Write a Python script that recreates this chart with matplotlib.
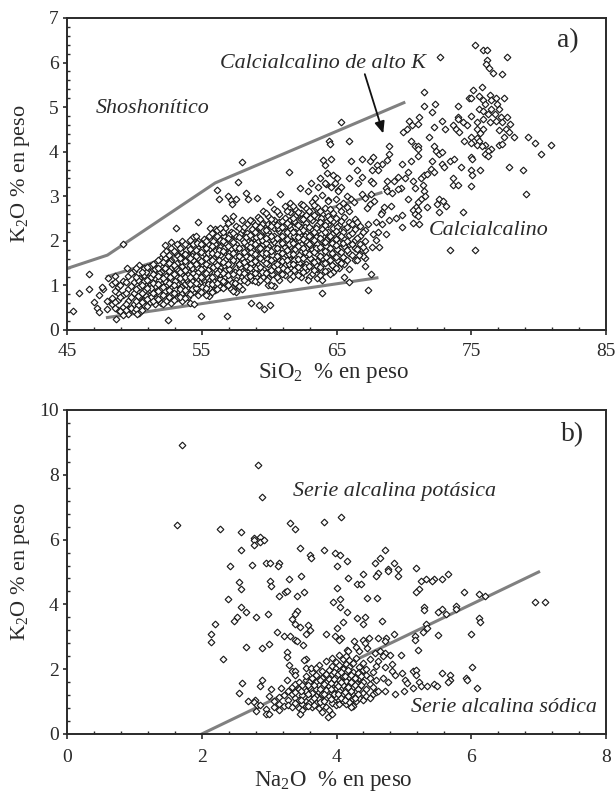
import matplotlib
matplotlib.use('Agg')
import matplotlib.pyplot as plt

plt.rcParams['font.family'] = ['Liberation Serif', 'DejaVu Serif']
plt.rcParams['mathtext.fontset'] = 'custom'
plt.rcParams['mathtext.rm'] = 'Liberation Serif'
plt.rcParams['mathtext.default'] = 'regular'

COR_TEXTO = '#2a2a2a'
COR_LINHA = '#808080'

# a) pontos isolados (SiO2, K2O)
a_esquerda = [
    (45.45, .43), (45.9, .82), (46.6, .93), (46.6, 1.25), (47.0, .63), (47.2, .5), (47.35, .4),
    (47.35, .78), (47.7, .91), (47.6, .97), (47.95, .46), (47.95, .65), (48.07, 1.16), (48.56, 1.22),
    (48.56, 1.08), (49.13, 1.93), (48.64, .25), (49.18, .33), (49.48, 1.4), (50.2, .35), (52.5, .22),
    (54.95, .32), (56.85, .32), (58.64, .61), (59.26, .57), (59.6, .47), (60.07, .57), (57.95, 3.76),
    (61.5, 3.55), (56.14, 3.15), (56.26, 2.93), (57.7, 3.33), (56.98, 3.01), (57.18, 2.91), (57.55, 2.93),
    (57.23, 2.83), (58.3, 3.08), (58.4, 2.93), (59.1, 2.97), (60.07, 2.87), (60.77, 3.05), (62.3, 3.19),
    (62.9, 3.11), (63.1, 3.29), (63.76, 3.41), (63.4, 2.97), (54.73, 2.43), (53.07, 2.29), (52.3, 1.9),
    (52.7, 1.97), (55.6, 2.28), (56.36, 2.28), (54.1, .6), (54.4, .58), (63.9, .82), (62.92, 1.12),
]
a_medio = [
    (65.32, 4.66), (64.48, 4.23), (64.5, 4.18), (65.92, 4.23), (68.86, 4.13), (68.86, 3.95), (68.76, 3.81),
    (64.0, 3.81), (64.6, 3.84), (64.13, 3.7), (66.04, 3.8), (66.86, 3.84), (67.45, 3.8), (67.7, 3.88),
    (68.34, 3.73), (67.97, 3.7), (68.1, 3.6), (67.6, 3.58), (65.92, 3.41), (66.5, 3.58), (66.86, 3.44), (66.63, 3.3),
    (67.57, 3.34), (67.7, 3.3), (68.76, 3.34), (69.26, 3.34), (69.6, 3.44), (70.07, 3.41), (70.3, 3.55),
    (70.67, 3.34), (71.26, 3.41), (71.49, 3.48), (71.39, 3.26), (70.8, 3.19), (71.5, 3.11), (69.75, 3.19),
    (69.6, 3.16), (68.64, 3.19), (68.76, 3.11), (69.13, 3.08), (66.86, 3.05), (67.1, 2.97), (67.57, 3.05),
    (65.8, 3.01), (66.04, 2.93), (66.29, 2.87), (67.48, 2.82), (67.82, 2.9), (67.23, 2.73), (69.03, 2.79),
    (68.5, 2.76), (68.4, 2.65), (68.3, 2.61), (70.3, 2.93), (71.26, 2.93), (71.04, 2.87), (71.6, 3.01),
    (70.9, 2.76), (71.73, 2.76), (70.65, 2.69), (71.04, 2.69), (72.6, 2.93), (72.9, 2.9), (72.45, 2.83),
    (73.14, 2.79), (72.6, 2.65), (70.8, 2.61), (71.04, 2.55), (70.67, 2.4), (71.14, 2.37), (69.85, 2.58),
    (69.85, 2.3), (69.38, 2.51), (68.9, 2.47), (68.4, 2.37), (68.64, 2.16), (67.95, 2.43), (67.35, 2.37),
    (67.1, 1.44), (67.57, 1.26), (65.54, 1.19), (65.92, 1.08), (67.35, .9), (68.17, 1.87), (67.65, 1.87),
    (67.95, 2.02), (66.66, 1.68), (68.1, 2.2), (67.7, 2.15), (64.3, 3.52), (64.75, 3.48), (65.0, 3.42),
    (64.9, 3.3), (64.2, 3.28), (63.6, 3.2), (65.1, 3.15), (65.3, 3.2), (64.15, 3.29), (64.6, 3.2),
    (65.1, 3.11), (64.96, 2.95), (63.9, 3.02), (64.4, 2.9), (65.5, 2.85),
]
a_direita = [
    (75.3, 6.39), (75.87, 6.28), (76.14, 6.28), (76.14, 6.06), (76.09, 5.96), (76.3, 5.87), (76.6, 5.77),
    (77.3, 5.74), (77.67, 6.12), (72.67, 6.12), (71.49, 5.34), (71.49, 5.02), (72.33, 5.06), (72.08, 4.88),
    (74.0, 5.02), (73.99, 4.78), (72.82, 4.7), (72.23, 4.56), (73.04, 4.52), (71.86, 4.34), (71.1, 4.77),
    (70.4, 4.7), (70.6, 4.59), (71.04, 4.62), (70.2, 4.52), (69.95, 4.44), (70.55, 4.23), (70.8, 4.13),
    (71.04, 4.13), (71.04, 4.05), (72.2, 4.13), (72.35, 4.02), (72.6, 3.95), (72.82, 3.99), (71.04, 3.91),
    (70.55, 3.8), (69.83, 3.73), (72.1, 3.8), (72.0, 3.62), (72.2, 3.55), (71.73, 3.51), (73.4, 3.8),
    (73.74, 3.84), (72.8, 3.73), (72.95, 3.66), (74.23, 3.66), (74.95, 3.88), (75.07, 3.84), (74.95, 3.58),
    (75.67, 3.58), (75.07, 3.47), (73.64, 3.41), (73.64, 3.26), (74.0, 3.26), (74.95, 3.23), (77.8, 3.66),
    (78.86, 3.58), (79.1, 3.05), (74.36, 2.65), (73.39, 1.79), (75.3, 1.79), (79.2, 4.34), (79.7, 4.2),
    (80.17, 3.94), (80.9, 4.16), (75.15, 5.38), (75.77, 5.45), (74.83, 5.2), (75.0, 5.2), (75.54, 5.24),
    (75.9, 5.15), (76.36, 5.27), (76.86, 5.2), (77.45, 5.2), (76.5, 5.16), (76.93, 5.08), (76.0, 5.06),
    (75.54, 4.95), (75.9, 4.91), (76.5, 4.95), (77.08, 4.95), (74.95, 4.8), (75.9, 4.73), (76.24, 4.84),
    (76.73, 4.84), (77.2, 4.77), (77.67, 4.77), (74.0, 4.73), (74.36, 4.66), (74.7, 4.59), (73.64, 4.59),
    (73.9, 4.52), (74.1, 4.44), (75.42, 4.66), (75.42, 4.52), (75.9, 4.52), (76.36, 4.66), (76.83, 4.7),
    (77.3, 4.66), (77.9, 4.63), (77.08, 4.48), (77.55, 4.52), (77.8, 4.44), (78.14, 4.34), (77.43, 4.34),
    (74.95, 4.34), (75.67, 4.41), (75.42, 4.3), (74.48, 4.23), (74.95, 4.2), (75.54, 4.23), (75.42, 4.16),
    (76.0, 4.16), (75.77, 4.13), (77.08, 4.16), (77.25, 4.18), (76.5, 4.05), (76.24, 4.02), (76.0, 3.95),
    (76.24, 3.91),
]

# a) nuvem densa: K2O lido por coluna de SiO2, passagens intercaladas
a_nuvem_1 = [
    (48.35, [.71, 1.03, .58]), (48.75, [.44, .96, .67, .83]), (49.15, [.52, 1.11, .38, .79]),
    (49.55, [.91, .47, 1.22, .66, .36]), (49.95, [.59, 1.33, .83, .42, 1.07]), (50.35, [1.17, .51, .74, 1.46, .96, .39]),
    (50.75, [.87, 1.38, .56, 1.09, .68, 1.24]), (51.15, [.62, 1.44, 1.02, .78, 1.29, .9]), (51.55, [1.17, .58, 1.36, .83, 1.51, .98]),
    (51.95, [.73, 1.62, 1.08, .61, 1.3, .92, 1.44]), (52.35, [1.22, .66, 1.78, 1.0, 1.47, .84, 1.6]),
    (52.75, [.95, 1.39, .6, 1.84, 1.13, .76, 1.58, 1.27]), (53.15, [1.5, .71, 1.19, 1.93, .88, 1.69, 1.04, 1.36]),
    (53.55, [.82, 1.28, 1.76, .97, 1.99, 1.44, .66, 1.12, 1.6]), (53.95, [1.08, 1.67, .74, 1.41, 1.89, .93, 1.24, 1.53]),
    (54.35, [1.35, .86, 2.08, 1.16, 1.73, .99, 1.56, 1.92, 1.27]), (54.75, [.79, 1.62, 1.02, 2.0, 1.3, 1.84, 1.47, .92]),
    (55.15, [1.11, 1.72, .88, 1.96, 1.38, 1.58, 1.24, 2.05, 1.0]), (55.55, [.76, 1.44, 1.09, 2.12, 1.66, .95, 1.82, 1.31]),
    (55.95, [1.53, 1.0, 2.26, 1.77, 1.21, 1.93, .89, 1.36, 2.06]), (56.35, [1.14, 1.69, .97, 2.18, 1.41, 1.86, 1.26, 2.01]),
    (56.75, [.99, 2.52, 1.58, 1.18, 2.1, 1.74, 1.34, 1.95, 2.28]), (57.15, [1.47, .91, 2.44, 1.08, 1.81, 2.03, 1.28, 1.63, 2.2]),
    (57.55, [1.12, 1.72, .85, 2.33, 1.39, 1.93, 1.56, 2.12, 1.0]), (57.95, [1.62, 1.19, 2.47, .93, 1.85, 1.33, 2.24, 1.49, 2.05]),
    (58.35, [1.07, 2.0, 1.42, 2.38, 1.74, 1.24, 1.91, 1.57, 2.17]), (58.75, [1.35, 2.27, 1.13, 1.8, 1.52, 2.09, 1.67, 1.96, 2.44]),
    (59.15, [1.69, 1.07, 2.53, 1.25, 2.0, 1.46, 2.3, 1.84, 2.15]), (59.55, [1.2, 2.68, 1.58, 2.09, 1.37, 1.77, 2.41, 1.94, 2.24]),
    (59.95, [1.02, 1.88, 2.56, 1.49, 2.2, 1.3, 1.7, 2.38, 2.02, 1.16]), (60.35, [1.62, .98, 2.29, 1.26, 2.72, 1.84, 1.43, 2.11, 1.97, 2.47]),
    (60.75, [1.13, 2.03, 1.55, 2.6, 1.35, 2.22, 1.76, 2.42, 1.9]), (61.15, [1.87, 1.24, 2.34, 1.66, 2.78, 1.46, 2.12, 2.52, 1.98]),
    (61.55, [1.39, 2.46, 1.14, 2.0, 1.73, 2.28, 2.84, 1.57, 2.64, 1.89]), (61.95, [2.19, 1.28, 2.71, 1.64, 1.97, 2.4, 1.46, 2.06, 1.82, 2.56]),
    (62.35, [1.53, 2.83, 1.18, 2.3, 1.76, 2.62, 1.39, 2.11, 1.92, 2.48]), (62.75, [1.34, 2.18, 1.68, 2.74, 2.39, 1.49, 2.0, 2.57, 1.84]),
    (63.15, [2.88, 1.58, 1.25, 2.26, 1.81, 2.66, 2.04, 1.44, 2.47, 1.95]), (63.55, [1.16, 2.13, 1.71, 2.54, 1.37, 1.92, 2.36, 2.77, 1.55]),
    (63.95, [2.03, 1.28, 2.61, 1.62, 2.27, 1.86, 2.45, 1.12, 1.47]), (64.35, [1.74, 2.38, 1.33, 2.92, 2.09, 1.54, 2.2, 1.93, 2.55]),
    (64.75, [1.43, 2.62, 2.01, 1.69, 2.29, 1.85, 2.44, 1.3]), (65.15, [2.14, 1.53, 2.78, 1.77, 2.36, 1.95, 1.4]),
    (65.55, [1.62, 2.27, 1.88, 2.54, 1.47, 2.04]), (65.95, [2.43, 1.72, 1.37, 2.13, 1.93, 2.66]),
    (66.35, [1.83, 2.26, 1.58, 2.01, 2.5]), (66.75, [2.12, 1.71, 1.94, 2.34]), (67.15, [1.79, 2.24, 2.0, 1.62]),
]
a_nuvem_2 = [
    (48.55, [.62, .88, .49]), (48.95, [.74, .42, 1.02]), (49.35, [.58, 1.08, .82, .44]),
    (49.75, [.73, 1.27, .5, .98]), (50.15, [.93, .46, 1.4, .66, 1.2]), (50.55, [.62, 1.3, .44, 1.02, .82]),
    (50.95, [1.12, .7, 1.41, .53, .94]), (51.35, [.84, 1.25, .66, 1.47, 1.06]), (51.75, [1.39, .69, 1.04, 1.56, .87, 1.22]),
    (52.15, [.97, 1.52, .58, 1.71, 1.17, .79]), (52.55, [1.33, .73, 1.06, 1.69, .9, 1.5]),
    (52.95, [.67, 1.25, 1.77, 1.01, 1.46, .84]), (53.35, [1.16, .75, 1.62, 1.31, .93, 1.83]),
    (53.75, [1.55, .9, 1.2, 1.94, 1.34, .71, 1.71]), (54.15, [.8, 1.46, 1.04, 2.02, 1.61, 1.2, 1.81]),
    (54.55, [1.22, 1.8, .94, 1.48, 2.1, 1.05, 1.66]), (54.95, [1.55, .85, 1.18, 1.92, 1.37, 1.75]),
    (55.35, [.94, 1.49, 2.0, 1.27, .78, 1.83, 1.61]), (55.75, [1.2, 1.88, .86, 1.56, 2.17, 1.03, 1.73]),
    (56.15, [1.7, 1.06, 1.46, 2.1, .93, 1.28, 2.24]), (56.55, [1.29, 2.0, 1.52, .95, 1.77, 2.2, 1.1]),
    (56.95, [1.88, 1.23, 2.4, 1.02, 1.49, 1.67, 2.06]), (57.35, [.88, 1.56, 2.18, 1.25, 1.98, 1.73, 2.55]),
    (57.75, [1.3, 2.08, .98, 1.66, 2.28, 1.47, 1.85]), (58.15, [1.76, 1.12, 2.31, 1.52, 1.98, 1.28]),
    (58.55, [1.21, 2.13, 1.61, 1.87, 2.46, 1.38]), (58.95, [1.93, 1.1, 2.36, 1.54, 1.71, 2.2, 1.29]),
    (59.35, [1.42, 2.5, 1.84, 1.12, 2.1, 1.62, 2.32]), (59.75, [1.95, 1.28, 2.62, 1.51, 2.25, 1.73, 2.07]),
    (60.15, [1.34, 2.12, 1.0, 1.78, 2.5, 1.57, 2.33]), (60.55, [2.06, 1.47, 1.18, 2.66, 1.83, 2.35, 1.65]),
    (60.95, [1.54, 2.45, 1.26, 2.1, 1.72, 2.3, 1.96]), (61.35, [2.2, 1.34, 1.8, 2.66, 1.58, 2.41, 2.04]),
    (61.75, [1.22, 1.95, 2.52, 1.7, 2.2, 2.78, 1.48]), (62.15, [1.88, 2.36, 1.41, 2.64, 2.08, 1.6, 1.24]),
    (62.55, [2.24, 1.62, 2.8, 1.31, 2.04, 2.5, 1.83]), (62.95, [1.44, 2.32, 1.92, 2.68, 1.71, 2.12, 1.2]),
    (63.35, [2.01, 1.35, 2.58, 1.76, 2.2, 2.8, 1.52]), (63.75, [1.66, 2.42, 1.23, 2.06, 1.86, 2.66, 1.42]),
    (64.15, [2.2, 1.5, 2.74, 1.77, 1.33, 2.35, 1.98]), (64.55, [1.58, 2.1, 2.48, 1.84, 1.26, 2.72]),
    (64.95, [2.22, 1.64, 2.52, 1.9, 1.39, 2.05]), (65.35, [1.74, 2.44, 1.5, 2.1, 2.66]),
    (65.75, [2.0, 1.58, 2.3, 1.8, 2.77]), (66.15, [1.68, 2.18, 1.92, 2.38]),
    (66.55, [1.82, 2.42, 2.06, 1.58]), (66.95, [2.2, 1.66, 1.87]),
]
a_nuvem_3 = [
    (50.25, [.77, 1.12, .55]), (50.85, [.99, .76, 1.31]), (51.25, [.73, 1.18, .95]), (51.85, [1.28, .8, 1.12, 1.48]),
    (52.25, [.87, 1.39, 1.09, 1.62]), (52.65, [1.2, .82, 1.54]), (53.05, [.93, 1.42, 1.11, 1.74]), (53.45, [1.25, .97, 1.54, 1.78]),
    (53.85, [1.48, .86, 1.14, 1.8]), (54.25, [1.09, 1.66, .92, 1.38]), (54.65, [1.42, 1.14, 1.75, 1.96]), (55.05, [.96, 1.49, 1.81, 1.16]),
    (55.45, [1.35, 1.73, 1.04, 1.94]), (55.85, [1.11, 1.62, 1.99, 1.42]), (56.25, [1.58, .99, 1.8, 1.33]), (56.65, [1.45, 1.07, 1.85, 2.12]),
    (57.05, [1.14, 1.72, 1.36, 2.13]), (57.45, [1.65, 1.05, 1.86, 1.3]), (57.85, [1.41, 1.76, 1.09, 2.16]), (58.25, [1.18, 1.67, 2.09, 1.44]),
    (58.65, [1.5, 1.95, 1.28, 1.74]), (59.05, [1.62, 1.19, 2.08, 1.4]), (59.45, [1.3, 1.72, 2.02, 2.38]), (59.85, [1.6, 1.12, 2.14, 1.82]),
    (60.25, [1.68, 1.25, 2.04, 2.4]), (60.65, [1.36, 1.92, 1.74, 2.28]), (61.05, [1.62, 2.18, 1.38, 2.01]), (61.45, [1.92, 1.48, 2.35, 1.7]),
    (61.85, [1.58, 2.12, 1.34, 2.44]), (62.25, [2.2, 1.68, 1.5, 2.01]), (62.65, [1.75, 2.3, 1.41, 2.12]), (63.05, [1.62, 2.14, 1.9, 2.52]),
    (63.45, [1.84, 1.45, 2.28, 2.09]), (63.85, [1.74, 2.16, 1.35, 2.52]), (64.25, [1.64, 2.02, 2.42, 1.88]), (64.65, [1.72, 2.16, 1.46, 1.96]),
    (65.05, [1.82, 2.3, 1.56]), (65.45, [1.96, 2.2, 1.64]),
]

# b) pontos isolados (Na2O, K2O)
b_esquerda = [
    (1.7, 8.93), (1.63, 6.44), (2.84, 8.31), (2.89, 7.31), (2.27, 6.34), (2.58, 6.24), (2.58, 5.68), (2.78, 6.04),
    (2.77, 5.99), (2.87, 6.08), (2.87, 5.94), (2.92, 5.99), (2.77, 5.84), (2.74, 5.23), (2.42, 5.18), (2.96, 5.28),
    (3.01, 5.28), (3.15, 5.28), (3.13, 5.18), (3.31, 6.5), (3.38, 6.34), (3.46, 5.73), (3.6, 5.53), (3.62, 5.44),
    (3.48, 4.88), (3.29, 4.77), (3.01, 4.73), (3.03, 4.57), (2.55, 4.68), (2.58, 4.47), (2.39, 4.16), (3.15, 4.27),
    (3.24, 4.37), (3.27, 4.42), (3.41, 4.27), (3.52, 4.37), (2.58, 3.92), (2.65, 3.76), (2.53, 3.61), (2.48, 3.5),
    (2.81, 3.61), (2.99, 3.71), (3.41, 3.81), (3.38, 3.71), (3.34, 3.56), (3.38, 3.4), (3.46, 3.3), (3.57, 3.36),
    (3.6, 3.2), (3.55, 3.1), (2.2, 3.4), (2.13, 3.1), (2.13, 2.84), (2.32, 2.33), (2.65, 2.69), (2.89, 2.64),
    (3.0, 2.79), (3.12, 3.14), (3.22, 3.04), (3.31, 3.04), (3.38, 2.9), (3.41, 2.88), (3.5, 2.74), (3.26, 2.54),
    (3.26, 2.38), (3.29, 2.14), (3.55, 2.33), (3.52, 2.28), (3.55, 2.03), (3.62, 2.03), (3.69, 2.03), (3.34, 1.93),
    (3.38, 1.93), (3.38, 1.83), (3.26, 1.68), (2.6, 1.57), (2.55, 1.27), (2.89, 1.68), (2.87, 1.48), (3.03, 1.38),
    (3.0, 1.18), (2.69, 1.01), (2.79, 1.06), (2.77, .98), (2.82, .9), (2.87, .9), (2.81, .71), (2.96, .77),
    (2.96, .62), (3.0, .62), (3.17, 1.42), (3.46, .62),
]
b_direita = [
    (3.81, 6.55), (4.07, 6.7), (3.81, 5.68), (3.98, 5.58), (4.05, 5.53), (4.0, 5.18), (4.15, 5.33), (4.72, 5.68),
    (4.64, 5.44), (4.57, 5.28), (4.86, 5.28), (4.91, 5.09), (4.76, 5.09), (4.76, 5.04), (4.91, 4.88), (4.62, 4.98),
    (4.59, 4.88), (4.39, 4.93), (4.17, 4.83), (5.18, 5.13), (5.66, 4.93), (5.57, 4.78), (5.45, 4.78), (5.42, 4.73),
    (5.33, 4.78), (5.25, 4.73), (5.23, 4.48), (5.18, 4.38), (5.89, 4.37), (6.11, 4.32), (6.2, 4.27), (6.94, 4.06),
    (7.1, 4.06), (4.31, 4.62), (4.36, 4.62), (4.46, 4.21), (4.6, 4.21), (4.0, 4.52), (4.05, 4.16), (3.95, 4.06),
    (4.05, 3.92), (4.15, 3.76), (5.3, 3.92), (5.3, 3.82), (5.78, 3.96), (5.78, 3.85), (5.63, 3.71), (5.56, 3.85),
    (5.51, 3.76), (6.11, 3.57), (6.13, 3.46), (4.31, 3.57), (4.39, 3.41), (4.43, 3.61), (4.67, 3.5), (4.1, 3.46),
    (4.0, 3.26), (3.84, 3.1), (3.98, 3.01), (4.07, 2.96), (4.03, 2.91), (4.86, 3.1), (5.33, 3.41), (5.35, 3.26),
    (5.28, 3.16), (5.51, 3.05), (5.99, 3.1), (5.16, 3.01), (5.16, 2.89), (5.21, 2.6), (4.95, 2.44), (4.26, 2.86),
    (4.39, 2.91), (4.48, 2.96), (4.43, 2.8), (4.62, 2.96), (4.74, 2.96), (4.72, 2.86), (4.29, 2.7), (4.15, 2.6),
    (4.17, 2.55), (4.34, 2.55), (4.46, 2.65), (4.57, 2.5), (4.64, 2.55), (4.72, 2.5), (4.79, 2.44), (4.69, 2.4),
    (4.62, 2.26), (4.72, 2.06), (4.83, 2.15), (4.83, 1.95), (4.97, 1.88), (4.87, 1.83), (4.69, 1.73), (4.76, 1.62),
    (5.02, 1.68), (5.05, 1.57), (5.14, 1.93), (5.18, 1.98), (5.18, 1.83), (5.23, 1.62), (5.25, 1.48), (5.14, 1.43),
    (5.35, 1.48), (5.45, 1.53), (5.49, 1.48), (5.56, 1.88), (5.68, 1.83), (5.68, 1.68), (5.66, 1.62), (6.01, 2.08),
    (5.92, 1.73), (5.94, 1.68), (6.08, 1.43), (4.87, 1.22), (5.0, 1.33), (4.72, 1.33), (4.62, 1.33), (3.88, .52),
    (3.93, .62), (4.22, .83),
]
# b) nuvem densa: K2O lido por coluna de Na2O
b_nuvem_1 = [
    (3.07, [.82, 1.03]), (3.15, [.94, .73, 1.14]), (3.22, [1.2, .86]), (3.28, [1.04, 1.33, .91]),
    (3.34, [.84, 1.22, 1.46]), (3.39, [1.1, .97, 1.55, 1.3]), (3.44, [.8, 1.38, 1.06, 1.62]),
    (3.49, [1.2, .92, 1.5, .74]), (3.54, [1.68, 1.02, 1.33, .87, 1.8]), (3.59, [1.12, 1.46, .95, 1.59]),
    (3.64, [.83, 1.27, 1.73, 1.04, 1.9]), (3.69, [1.4, .97, 1.62, 1.16, 1.82]), (3.74, [1.08, 1.52, .79, 2.14, 1.3]),
    (3.79, [1.72, .91, 1.24, 1.95, .68, 1.45]), (3.84, [1.12, 2.26, 1.6, .82, 1.36, 1.86]), (3.89, [1.48, .74, 1.99, 1.18, 1.7]),
    (3.94, [.96, 1.62, 2.34, 1.28, 1.84, 2.1]), (3.99, [1.41, .88, 2.03, 1.13, 1.76, 1.55, 2.22]),
    (4.04, [1.94, 1.05, 1.34, 2.44, 1.66, .94, 2.14]), (4.09, [1.22, 1.8, 2.3, 1.5, 1.02, 2.02]),
    (4.14, [1.64, .93, 2.15, 1.38, 1.9, 2.4, 1.12]), (4.19, [1.26, 1.76, 1.0, 2.06, 1.5, 2.28]),
    (4.24, [1.92, 1.08, 1.44, 2.2, 1.66, .86]), (4.29, [1.18, 1.58, 2.34, 1.8, 1.32, 1.02]),
    (4.34, [1.72, 1.1, 2.08, 1.46, 1.9]), (4.39, [1.28, 1.98, 1.06, 1.62, 2.2]),
    (4.44, [1.16, 1.82, 1.4, 2.02]), (4.49, [1.55, 1.1, 1.74, 2.3]),
    (4.54, [1.24, 1.92, 1.44]), (4.59, [1.66, 2.1, 1.3]),
]
b_nuvem_2 = [
    (3.47, [1.32, 1.04]), (3.57, [1.24, .85, 1.52]), (3.67, [1.1, 1.5, .9]), (3.76, [1.38, 1.0, 1.66]),
    (3.82, [1.02, 1.54, 1.24]), (3.92, [1.08, 1.56, 1.38]), (3.97, [1.22, 1.7, 1.92]), (4.02, [1.24, 1.48, 1.85]),
    (4.07, [1.12, 1.62, 1.92]), (4.12, [1.3, 1.78, 1.05]), (4.17, [1.46, 1.16, 1.98]), (4.22, [1.34, 1.82, 1.6]),
    (4.27, [1.1, 1.5, 1.72]), (4.32, [1.4, 1.24, 1.88]), (4.37, [1.52, 1.78]),
]


def expandir(colunas):
    xs, ys = [], []
    for x, valores in colunas:
        for y in valores:
            xs.append(x)
            ys.append(y)
    return xs, ys


def montar_eixo(ax, xticks, xminor, yticks, yminor, xlim, ylim, pad_x):
    ax.set_xlim(*xlim)
    ax.set_ylim(*ylim)
    ax.set_xticks(xticks)
    ax.set_xticks(xminor, minor=True)
    ax.set_yticks(yticks)
    ax.set_yticks(yminor, minor=True)
    ax.tick_params(axis='x', which='major', direction='out', length=3.6, width=1.2, labelsize=14,
                   colors=COR_TEXTO, pad=pad_x)
    ax.tick_params(axis='y', which='major', direction='out', length=3, width=1.2, labelsize=14,
                   colors=COR_TEXTO, pad=3)
    ax.tick_params(which='minor', direction='in', length=2.2, width=1.0, color=COR_TEXTO)
    for lado in ax.spines.values():
        lado.set_linewidth(1.4)
        lado.set_color(COR_TEXTO)
    ax.yaxis.label.set_verticalalignment('center')
    ax.yaxis.set_label_coords(-46 / 539, 0.5)


def desenhar_pontos(ax, xs, ys):
    ax.plot(xs, ys, linestyle='none', marker='D', markersize=3.4, markerfacecolor='white',
            markeredgecolor='#1c1c1c', markeredgewidth=0.85, zorder=3)


fig = plt.figure(figsize=(6.16, 7.94), dpi=100)
ax1 = fig.add_axes([67 / 616, 1 - 330 / 794, 539 / 616, 312 / 794])
ax2 = fig.add_axes([67 / 616, 1 - 734 / 794, 539 / 616, 324 / 794])

# painel a
ax1.set_ylabel('K$_2$O % en peso', fontsize=16, color=COR_TEXTO)
montar_eixo(ax1, [45, 55, 65, 75, 85], [47, 49, 51, 53, 57, 59, 61, 63, 67, 69, 71, 73, 77, 79, 81, 83],
            list(range(8)), [i * 0.2 for i in range(36) if i % 5], (45, 85), (0, 7), 5.5)
ax1.plot([45, 48, 56, 70], [1.38, 1.68, 3.3, 5.1], color=COR_LINHA, lw=2.2, zorder=2)
ax1.plot([48, 68.3], [1.2, 3.08], color=COR_LINHA, lw=2.2, zorder=2)
ax1.plot([48, 68], [.28, 1.17], color=COR_LINHA, lw=2.2, zorder=2)
xs_1, ys_1 = expandir(a_nuvem_1 + a_nuvem_3 + a_nuvem_2)
isolados = a_esquerda + a_medio + a_direita
desenhar_pontos(ax1, xs_1 + [p[0] for p in isolados], ys_1 + [p[1] for p in isolados])
ax1.text(0.5 - 3 / 539, -43 / 312, 'SiO$_2$  % en peso', fontsize=16.5, color=COR_TEXTO,
         ha='center', va='center', transform=ax1.transAxes)
ax1.text(56.35, 5.97, 'Calcialcalino de alto K', style='italic', fontsize=15.8, color=COR_TEXTO, va='center', zorder=4)
ax1.text(47.15, 4.98, 'Shoshonítico', style='italic', fontsize=15.8, color=COR_TEXTO, va='center', zorder=4)
ax1.text(71.86, 2.24, 'Calcialcalino', style='italic', fontsize=15.8, color=COR_TEXTO, va='center', zorder=4)
ax1.text(81.4, 6.5, 'a)', fontsize=20, color=COR_TEXTO, va='center', zorder=4)
ax1.annotate('', xy=(68.47, 4.41), xytext=(67.1, 5.74), zorder=5,
             arrowprops=dict(arrowstyle='-|>,head_length=0.7,head_width=0.3', color='#111111', lw=1.3,
                             shrinkA=0, shrinkB=0))

# painel b
ax2.set_ylabel('K$_2$O % en peso', fontsize=16, color=COR_TEXTO)
montar_eixo(ax2, [0, 2, 4, 6, 8], [i * 0.4 for i in range(21) if i % 5],
            [0, 2, 4, 6, 8, 10], [i * 0.4 for i in range(26) if i % 5], (0, 8), (0, 10), 7.5)
ax2.plot([2, 7], [0, 5], color=COR_LINHA, lw=2.2, zorder=2)
xs_n, ys_n = expandir(b_nuvem_1 + b_nuvem_2)
isolados = b_esquerda + b_direita
desenhar_pontos(ax2, xs_n + [p[0] for p in isolados], ys_n + [p[1] for p in isolados])
ax2.text(0.5 - 3 / 539, -47 / 324, 'Na$_2$O  % en peso', fontsize=16.5, color=COR_TEXTO,
         ha='center', va='center', transform=ax2.transAxes)
ax2.text(3.35, 7.47, 'Serie alcalina potásica', style='italic', fontsize=15.8, color=COR_TEXTO, va='center', zorder=4)
ax2.text(5.1, .83, 'Serie alcalina sódica', style='italic', fontsize=15.8, color=COR_TEXTO, va='center', zorder=4)
ax2.text(7.33, 9.23, 'b)', fontsize=20, color=COR_TEXTO, va='center', zorder=4)

fig.savefig('out.png', dpi=100)
